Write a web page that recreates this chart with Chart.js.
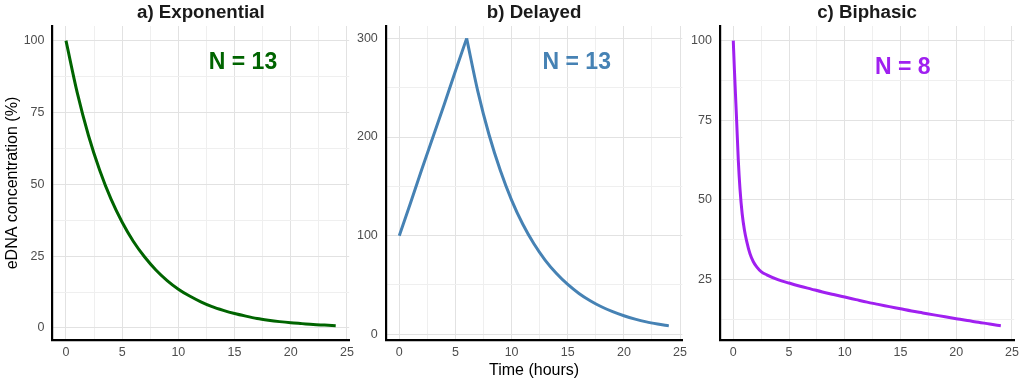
<!DOCTYPE html>
<html>
<head>
<meta charset="utf-8">
<script src="https://cdn.jsdelivr.net/npm/chart.js@4"></script>
<style>
  body { margin: 0; background: #fff; }
  #wrap { position: relative; width: 1024px; height: 383px; }
  canvas { position: absolute; top: 0; }
</style>
</head>
<body>
<div id="wrap">
  <canvas id="panelA" width="362" height="383" style="left:0px"></canvas>
  <canvas id="panelB" width="342" height="383" style="left:352px"></canvas>
  <canvas id="panelC" width="336" height="383" style="left:688px"></canvas>
</div>
<script>
// x values (hours) and the three curves
const hours = [0, 1, 2, 3, 4, 5, 6, 7, 8, 9, 10, 11, 12, 13, 14, 15, 16, 17, 18, 19, 20, 21, 22, 23, 24];
const exponential = [100, 81.9, 67.0, 54.9, 44.9, 36.8, 30.1, 24.7, 20.2, 16.5, 13.5, 11.1, 9.1, 7.4, 6.1, 5.0, 4.1, 3.3, 2.7, 2.2, 1.8, 1.5, 1.2, 1.0, 0.8];
const delayed = [100, 133, 167, 200, 233, 267, 300, 246, 202, 166, 136, 111.5, 91.5, 75, 61.6, 50.5, 41.4, 34, 27.9, 22.9, 18.8, 15.4, 12.6, 10.4, 8.5];
const peakHour = 6; // delayed curve: straight rise up to here, smooth decay after
const biphasicHours = [0, 0.1, 0.2, 0.3, 0.45, 0.6, 0.8, 1.0, 1.2, 1.5, 1.8, 2.1, 2.5, 3, 4, 5, 6, 7, 8, 9, 10, 11, 12, 13, 14, 15, 16, 17, 18, 19, 20, 21, 22, 23, 24];
const biphasic = [100, 91, 83, 75, 62.5, 53.5, 45.5, 40.5, 37, 33, 30.5, 28.9, 27.4, 26.4, 24.9, 23.8, 22.8, 21.9, 21.0, 20.2, 19.4, 18.6, 17.8, 17.1, 16.4, 15.7, 15.0, 14.4, 13.8, 13.2, 12.6, 12.0, 11.5, 10.9, 10.4];

// tick labels
const xTicks = [0, 2.5, 5, 7.5, 10, 12.5, 15, 17.5, 20, 22.5, 25];
const xLabels = [0, 5, 10, 15, 20, 25];
const yTicksA = [0, 12.5, 25, 37.5, 50, 62.5, 75, 87.5, 100];
const yLabelsA = [0, 25, 50, 75, 100];
const yTicksB = [0, 50, 100, 150, 200, 250, 300];
const yLabelsB = [0, 100, 200, 300];
const yTicksC = [12.5, 25, 37.5, 50, 62.5, 75, 87.5, 100];
const yLabelsC = [25, 50, 75, 100];

const FONT = '"Liberation Sans", Arial, Helvetica, sans-serif';

// draws the "N = .." note at a data position
const notePlugin = {
  id: 'note',
  afterDatasetsDraw(chart, args, opts) {
    const { ctx, scales } = chart;
    ctx.save();
    ctx.font = 'bold 23px ' + FONT;
    ctx.fillStyle = opts.color;
    ctx.textAlign = 'center';
    ctx.textBaseline = 'middle';
    ctx.fillText(opts.text, scales.x.getPixelForValue(opts.x), scales.y.getPixelForValue(opts.y));
    ctx.restore();
  }
};

function gridColor(major) {
  return (ctx) => (ctx.tick && major.includes(ctx.tick.value)) ? '#e2e2e2' : '#efefef';
}

function toPoints(xs, ys) {
  return xs.map((h, i) => ({ x: h, y: ys[i] }));
}

function lineSet(points, color, smooth) {
  return {
    data: points,
    borderColor: color,
    borderWidth: 3,
    pointRadius: 0,
    fill: false,
    tension: smooth ? 0.4 : 0,
    cubicInterpolationMode: smooth ? 'monotone' : 'default'
  };
}

function makePanel(id, p) {
  return new Chart(document.getElementById(id), {
    type: 'line',
    data: { datasets: p.datasets },
    options: {
      responsive: false,
      animation: false,
      layout: { padding: { left: 0, right: p.padRight, top: 0, bottom: 0 } },
      plugins: {
        legend: { display: false },
        tooltip: { enabled: false },
        title: {
          display: true,
          text: p.title,
          fullSize: false,
          color: '#1a1a1a',
          font: { family: FONT, size: 18.7, weight: 'bold' },
          padding: { top: 1.6, bottom: 2 }
        },
        note: p.note
      },
      scales: {
        x: {
          type: 'linear',
          min: -1.2,
          max: 25.2,
          afterBuildTicks: (s) => { s.ticks = xTicks.map(v => ({ value: v })); },
          afterFit: (s) => { s.height = 43; },
          ticks: {
            autoSkip: false,
            maxRotation: 0,
            padding: 5,
            color: '#4d4d4d',
            font: { family: FONT, size: 12.5 },
            callback: (v) => xLabels.includes(v) ? String(v) : ''
          },
          grid: { drawTicks: false, color: gridColor(xLabels), lineWidth: 1 },
          border: { display: true, color: '#000', width: 2.2 },
          title: {
            display: !!p.xTitle,
            text: p.xTitle || '',
            color: '#000',
            font: { family: FONT, size: 16 },
            padding: { top: 0, bottom: 3 }
          }
        },
        y: {
          type: 'linear',
          min: p.yMin,
          max: p.yMax,
          afterBuildTicks: (s) => { s.ticks = p.yTicks.map(v => ({ value: v })); },
          afterFit: (s) => { s.width = p.yWidth; },
          ticks: {
            autoSkip: false,
            padding: 8,
            color: '#4d4d4d',
            font: { family: FONT, size: 12.5 },
            callback: (v) => p.yLabels.includes(v) ? String(v) : ''
          },
          grid: { drawTicks: false, color: gridColor(p.yLabels), lineWidth: 1 },
          border: { display: true, color: '#000', width: 2.2 },
          title: {
            display: !!p.yTitle,
            text: p.yTitle || '',
            color: '#000',
            font: { family: FONT, size: 16 },
            padding: { top: 3, bottom: 0 }
          }
        }
      }
    },
    plugins: [notePlugin]
  });
}

const delayedPoints = toPoints(hours, delayed);
const peakIndex = hours.indexOf(peakHour);

makePanel('panelA', {
  title: 'a) Exponential',
  datasets: [lineSet(toPoints(hours, exponential), '#006400', true)],
  yMin: -4.2, yMax: 105.1, yTicks: yTicksA, yLabels: yLabelsA,
  yTitle: 'eDNA concentration (%)',
  yWidth: 52.5, padRight: 12.8,
  note: { text: 'N = 13', x: 15.75, y: 92.3, color: '#006400' }
});

makePanel('panelB', {
  title: 'b) Delayed',
  datasets: [
    lineSet(delayedPoints.slice(0, peakIndex + 1), '#4682B4', false),
    lineSet(delayedPoints.slice(peakIndex), '#4682B4', true)
  ],
  yMin: -5.8, yMax: 312.5, yTicks: yTicksB, yLabels: yLabelsB,
  xTitle: 'Time (hours)',
  yWidth: 33.8, padRight: 11.7,
  note: { text: 'N = 13', x: 15.8, y: 275, color: '#4682B4' }
});

makePanel('panelC', {
  title: 'c) Biphasic',
  datasets: [lineSet(toPoints(biphasicHours, biphasic), '#A020F0', true)],
  yMin: 5.9, yMax: 104.6, yTicks: yTicksC, yLabels: yLabelsC,
  yWidth: 31.9, padRight: 8.8,
  note: { text: 'N = 8', x: 15.2, y: 91.4, color: '#A020F0' }
});
</script>
</body>
</html>
